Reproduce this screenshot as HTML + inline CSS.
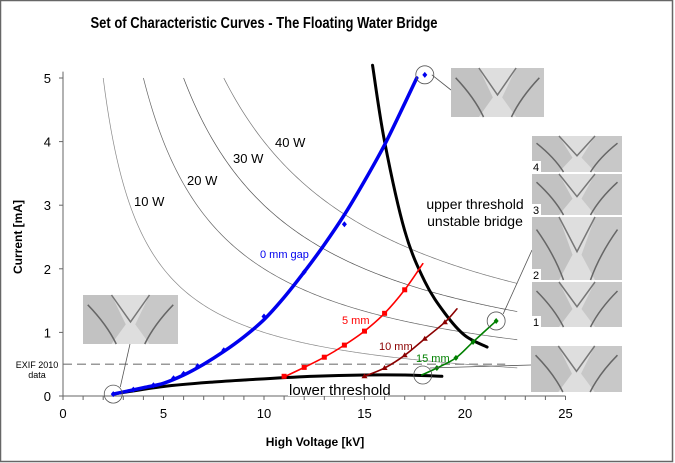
<!DOCTYPE html>
<html><head><meta charset="utf-8"><style>
html,body{margin:0;padding:0;background:#fff}
svg{display:block;font-family:"Liberation Sans",sans-serif}
</style></head><body>
<svg id="chart" width="675" height="463" viewBox="0 0 675 463">
<rect x="0.5" y="0.5" width="672" height="461" fill="#fff" stroke="#666" stroke-width="1.5"/>
<text x="264" y="28" text-anchor="middle" font-size="16" font-weight="bold" textLength="347" lengthAdjust="spacingAndGlyphs">Set of Characteristic Curves - The Floating Water Bridge</text>
<text x="315" y="446" text-anchor="middle" font-size="12" font-weight="bold">High Voltage [kV]</text>
<text transform="translate(22,237) rotate(-90)" text-anchor="middle" font-size="12" font-weight="bold">Current [mA]</text>
<g id="plot"></g>
</svg>
<script>
const xTicks=[0,5,10,15,20,25];
const yTicks=[0,1,2,3,4,5];
const powers=[10,20,30,40];
const blueCurve=[[2.5,0.03],[4,0.13],[5,0.2],[6,0.33],[7,0.5],[8,0.7],[9,0.93],[10,1.2],[11,1.55],[12,1.95],[13,2.38],[14,2.85],[15,3.38],[16,3.95],[17,4.6],[17.6,5.0]];
const bluePts=[[2.5,0.03],[3.5,0.1],[4.5,0.17],[5.5,0.28],[6,0.35],[6.7,0.47],[8,0.72],[10,1.25],[12,1.95],[14,2.7],[18,5.05]];
const redCurve=[[11,0.3],[12,0.45],[13,0.61],[14,0.8],[15,1.02],[16,1.3],[17,1.67],[17.9,2.08]];
const redPts=[[11,0.31],[12,0.45],[13,0.61],[14,0.8],[15,1.02],[16,1.3],[17,1.67]];
const darkCurve=[[15,0.31],[16,0.44],[17,0.64],[18,0.9],[19,1.16],[19.6,1.37]];
const darkPts=[[15,0.31],[16,0.44],[17,0.64],[18,0.9],[19,1.16]];
const greenCurve=[[17.85,0.33],[18.6,0.44],[19.55,0.6],[20.4,0.85],[21.55,1.18]];
const greenPts=[[18.6,0.44],[19.55,0.6],[20.4,0.85],[21.55,1.18]];
const lowerCurve=[[2.5,0.03],[5,0.15],[7.5,0.22],[10,0.27],[12.5,0.31],[15,0.33],[17,0.33],[18.85,0.31]];
const upperCurve=[[15.4,5.2],[16,4.0],[17,2.6],[18,1.8],[19,1.3],[20,0.95],[21.1,0.77]];
const exifLevel=0.5;

const X=v=>63+v*20.1, Y=v=>396-v*63.6;
const NS="http://www.w3.org/2000/svg";
const g=document.getElementById('plot');
function mk(t,a,p){const e=document.createElementNS(NS,t);for(const k in a)e.setAttribute(k,a[k]);(p||g).appendChild(e);return e;}
function smooth(pts){let d=`M${X(pts[0][0])},${Y(pts[0][1])}`;
 for(let i=0;i<pts.length-1;i++){const p0=pts[Math.max(0,i-1)],p1=pts[i],p2=pts[i+1],p3=pts[Math.min(pts.length-1,i+2)];
 const c1=[X(p1[0])+(X(p2[0])-X(p0[0]))/6,Y(p1[1])+(Y(p2[1])-Y(p0[1]))/6];
 const c2=[X(p2[0])-(X(p3[0])-X(p1[0]))/6,Y(p2[1])-(Y(p3[1])-Y(p1[1]))/6];
 d+=` C${c1[0]},${c1[1]} ${c2[0]},${c2[1]} ${X(p2[0])},${Y(p2[1])}`;}return d;}

const pcol=['#888','#666','#555','#777'];
powers.forEach((P,i)=>{let d='';for(let v=P/5;v<=22.7;v+=0.1){d+=(d?'L':'M')+X(v)+','+Y(P/v);}
 const e=mk('path',{d:d,fill:'none',stroke:pcol[i],'stroke-width':0.7});
 
 });
const plab=[[10,'10 W',134,206],[20,'20 W',187,185],[30,'30 W',233,163],[40,'40 W',275,147]];
plab.forEach(l=>{const t=mk('text',{x:l[2],y:l[3],'font-size':13});t.textContent=l[1];
 
 });

const dl=mk('line',{x1:X(0),x2:X(22),y1:Y(exifLevel),y2:Y(exifLevel),stroke:'#999','stroke-width':1.5,'stroke-dasharray':'9,5'});


const el1=mk('text',{x:37,y:368,'font-size':9,'text-anchor':'middle'});el1.textContent='EXIF 2010';


const el2=mk('text',{x:37,y:378,'font-size':9,'text-anchor':'middle'});el2.textContent='data';



const ya=mk('line',{x1:X(0),x2:X(0),y1:Y(0),y2:Y(5.1),stroke:'#666','stroke-width':1});


const xa=mk('line',{x1:X(0),x2:X(25),y1:Y(0),y2:Y(0),stroke:'#666','stroke-width':1});


for(let v=0;v<=25;v++){const e=mk('line',{x1:X(v),x2:X(v),y1:Y(0),y2:Y(0)+4,stroke:'#666'});
 
 }
xTicks.forEach(v=>{const t=mk('text',{x:X(v),y:418,'font-size':13,'text-anchor':'middle'});t.textContent=v;
 
 });
yTicks.forEach(v=>{const e=mk('line',{x1:X(0)-4,x2:X(0),y1:Y(v),y2:Y(v),stroke:'#666'});
 
 
 const t=mk('text',{x:51,y:Y(v)+5,'font-size':13,'text-anchor':'end'});t.textContent=v;
 
 });

const lb=mk('rect',{x:288,y:380,width:100,height:16,fill:'#fff'});


const lt=mk('text',{x:289,y:395,'font-size':15});lt.textContent='lower threshold';



function series(name,pts,col,w){const e=mk('path',{d:smooth(pts),fill:'none',stroke:col,'stroke-width':w,'stroke-linecap':'round'});
 
 }
function markers(name,pts,col,shape){pts.forEach(p=>{let e;
 if(shape==='sq')e=mk('rect',{x:X(p[0])-2.5,y:Y(p[1])-2.5,width:5,height:5,fill:col});
 else if(shape==='tri')e=mk('path',{d:`M${X(p[0])},${Y(p[1])-3}l3,5h-6z`,fill:col});
 else e=mk('path',{d:`M${X(p[0])},${Y(p[1])-3}l2.5,3l-2.5,3l-2.5,-3z`,fill:col});
 
 });}

series('lower-threshold-curve',lowerCurve,'#000',3);
series('upper-threshold-curve',upperCurve,'#000',3);
series('series-0mm',blueCurve,'#0000ee',3.5);
markers('point-0mm',bluePts,'#0000ee','dia');
series('series-5mm',redCurve,'#ff0000',1.6);
markers('point-5mm',redPts,'#ff0000','sq');
series('series-10mm',darkCurve,'#8b0000',1.6);
markers('point-10mm',darkPts,'#8b0000','tri');
series('series-15mm',greenCurve,'#008000',1.6);
markers('point-15mm',greenPts,'#008000','dia');

const slabs=[['0 mm gap',260,258,'#0000ee','label-0mm'],['5 mm',342,324,'#ff0000','label-5mm'],['10 mm',379,350,'#8b0000','label-10mm'],['15 mm',416,362,'#008000','label-15mm']];
slabs.forEach(s=>{const t=mk('text',{x:s[1],y:s[2],'font-size':11,fill:s[3]});t.textContent=s[0];
 
 });
const ut1=mk('text',{x:475,y:209,'font-size':14,'text-anchor':'middle'});ut1.textContent='upper threshold';


const ut2=mk('text',{x:475,y:226,'font-size':14,'text-anchor':'middle'});ut2.textContent='unstable bridge';



const circ=[[X(2.5),Y(0.03),[130,344]],[X(18),Y(5.05),[451,90]],[X(21.55),Y(1.18),[532,250]],[X(17.9),Y(0.33),[531,365]]];
circ.forEach(c=>{const e=mk('circle',{cx:c[0],cy:c[1],r:9,fill:'none',stroke:'#555','stroke-width':0.8});
 
 
 const l=mk('line',{x1:c[0]+(c[2][0]>c[0]?7:1),y1:c[1]-(c[2][1]<c[1]?7:0),x2:c[2][0],y2:c[2][1],stroke:'#555','stroke-width':0.8});
 
 });

function photo(name,x,y,w,h){const gg=mk('g',{});
 mk('rect',{x:x,y:y,width:w,height:h,fill:'#dedede'},gg);
 mk('path',{d:`M${x},${y}L${x+w*0.3},${y}L${x+w*0.45},${y+h*0.6}L${x+w*0.3},${y+h}L${x},${y+h}z`,fill:'#c2c2c2'},gg);
 mk('path',{d:`M${x+w},${y}L${x+w*0.7},${y}L${x+w*0.55},${y+h*0.6}L${x+w*0.7},${y+h}L${x+w},${y+h}z`,fill:'#c8c8c8'},gg);
 mk('path',{d:`M${x+w*0.3},${y}L${x+w*0.5},${y+h*0.55}L${x+w*0.7},${y}`,fill:'none',stroke:'#777','stroke-width':1.5},gg);
 mk('path',{d:`M${x+w*0.05},${y+h*0.2}Q${x+w*0.25},${y+h*0.6} ${x+w*0.35},${y+h}M${x+w*0.95},${y+h*0.2}Q${x+w*0.75},${y+h*0.6} ${x+w*0.65},${y+h}`,fill:'none',stroke:'#666','stroke-width':1.5},gg);
 return gg;}
photo('photo-start',83,295,95,49);
photo('photo-0mm-end',451,68,93,49);
photo('photo-bridge-4',532,136,90,36);
photo('photo-bridge-3',532,174,90,41);
photo('photo-bridge-2',532,217,90,63);
photo('photo-bridge-1',532,282,90,45);
photo('photo-15mm-start',531,346,91,46);
[['4',172],['3',215],['2',280],['1',327]].forEach(n=>{const r=mk('rect',{x:532,y:n[1]-11,width:9,height:11,fill:'#fff'});
 
 
 const t=mk('text',{x:533,y:n[1]-1,'font-size':11});t.textContent=n[0];
 
 });
</script>
</body></html>
